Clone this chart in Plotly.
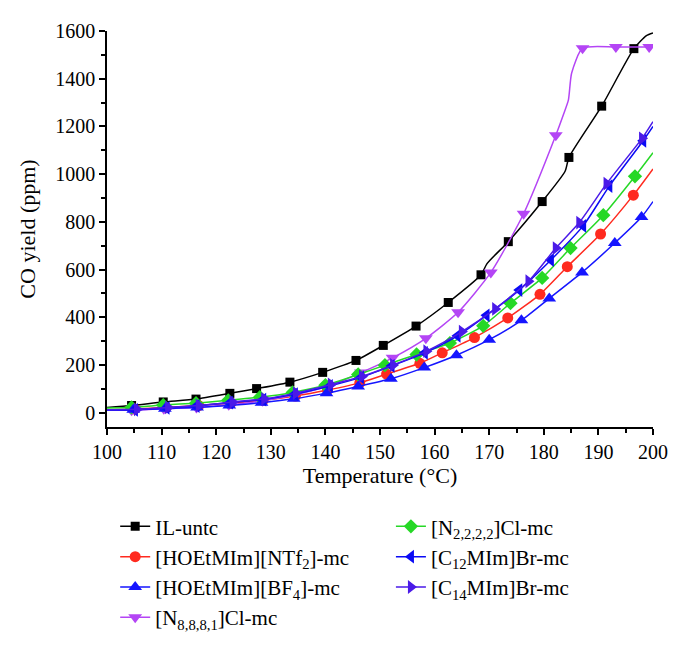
import plotly.graph_objects as go

# ---------------- data ----------------
# marker points (temperature °C, CO yield ppm)
il_T = [104.5, 110.3, 116.3, 122.5, 127.4, 133.5, 139.5, 145.6, 150.6, 156.6, 162.5, 168.5, 173.5, 179.7, 184.6, 190.6, 196.5]
il_V = [30, 45, 57, 81, 101, 128, 169, 219, 282, 363, 462, 578, 717, 885, 1070, 1285, 1526]
il_T_extra = [100, 169.6, 183.9, 198.8, 200]
il_V_extra = [22, 625, 1012, 1581, 1592]

ntf_T = [105.0, 110.8, 116.8, 122.7, 128.6, 134.5, 140.4, 146.3, 151.2, 157.3, 161.4, 167.3, 173.4, 179.3, 184.3, 190.4, 196.4]
ntf_V = [15, 22, 30, 40, 52, 70, 95, 125, 162, 207, 251, 315, 397, 496, 612, 749, 912]
ntf_T_extra = [100, 200]
ntf_V_extra = [12, 1022]

bf4_T = [104.8, 110.6, 116.5, 122.4, 128.3, 134.2, 140.2, 146.0, 152.0, 158.1, 164.0, 170.0, 175.9, 181.0, 187.0, 193.0, 197.9]
bf4_V = [12, 17, 22, 30, 42, 58, 82, 110, 142, 189, 241, 306, 387, 479, 588, 711, 820]
bf4_T_extra = [100, 200]
bf4_V_extra = [10, 885]

n8881_T = [104.5, 110.4, 116.4, 122.3, 128.5, 134.4, 140.5, 146.5, 152.3, 158.4, 164.3, 170.3, 176.3, 182.2, 187.1, 193.2, 199.3]
n8881_V = [10, 17, 22, 33, 50, 75, 112, 168, 230, 312, 421, 588, 834, 1163, 1528, 1533, 1533]
n8881_T_extra = [100, 183.6, 184.5, 185.1, 200]
n8881_V_extra = [12, 1250, 1310, 1424, 1533]

n2222_T = [104.5, 110.3, 116.3, 122.2, 128.0, 134.0, 140.0, 146.0, 150.9, 156.7, 162.8, 168.9, 173.9, 179.7, 184.9, 190.9, 196.7]
n2222_V = [22, 32, 40, 52, 65, 85, 115, 160, 199, 244, 292, 364, 459, 565, 690, 828, 991]
n2222_T_extra = [100, 200]
n2222_V_extra = [20, 1090]

c12_T = [105.1, 110.9, 116.4, 122.5, 128.6, 134.4, 140.8, 146.5, 152.1, 158.2, 164.2, 169.5, 175.5, 181.3, 187.2, 192.0, 198.2]
c12_V = [12, 20, 28, 42, 55, 78, 112, 148, 196, 251, 322, 408, 514, 640, 783, 950, 1140]
c12_T_extra = [100, 200]
c12_V_extra = [12, 1200]

c14_T = [105.5, 111.2, 116.8, 123.0, 128.8, 134.6, 141.0, 146.7, 152.4, 158.5, 165.0, 171.1, 177.2, 182.2, 186.5, 191.5, 198.0]
c14_V = [14, 22, 30, 45, 58, 82, 118, 152, 200, 258, 340, 435, 551, 690, 797, 960, 1150]
c14_T_extra = [100, 200]
c14_V_extra = [12, 1220]

names = {
    "il": "IL-untc",
    "ntf": "[HOEtMIm][NTf<sub>2</sub>]-mc",
    "bf4": "[HOEtMIm][BF<sub>4</sub>]-mc",
    "n8881": "[N<sub>8,8,8,1</sub>]Cl-mc",
    "n2222": "[N<sub>2,2,2,2</sub>]Cl-mc",
    "c12": "[C<sub>12</sub>MIm]Br-mc",
    "c14": "[C<sub>14</sub>MIm]Br-mc",
}

x_ticks = [100, 110, 120, 130, 140, 150, 160, 170, 180, 190, 200]
y_ticks = [0, 200, 400, 600, 800, 1000, 1200, 1400, 1600]

# ---------------- styles ----------------
series = [
    # key, T, V, Textra, Vextra, color, symbol, size, legend
    ("il", il_T, il_V, il_T_extra, il_V_extra, "#000000", "square", 9, "legend"),
    ("ntf", ntf_T, ntf_V, ntf_T_extra, ntf_V_extra, "#ff2a1f", "circle", 11, "legend"),
    ("n8881", n8881_T, n8881_V, n8881_T_extra, n8881_V_extra, "#b445f5", "triangle-down", 12, "legend"),
    ("n2222", n2222_T, n2222_V, n2222_T_extra, n2222_V_extra, "#26d826", "diamond", 11, "legend2"),
    ("bf4", bf4_T, bf4_V, bf4_T_extra, bf4_V_extra, "#1515ff", "triangle-up", 12, "legend"),
    ("c12", c12_T, c12_V, c12_T_extra, c12_V_extra, "#0a0af5", "triangle-left", 12, "legend2"),
    ("c14", c14_T, c14_V, c14_T_extra, c14_V_extra, "#4a1ae8", "triangle-right", 12, "legend2"),
]
legend_rank = {"il": 1, "ntf": 2, "bf4": 3, "n8881": 4, "n2222": 5, "c12": 6, "c14": 7}

fig = go.Figure()
for key, T, V, Te, Ve, col, sym, sz, leg in series:
    pts = sorted(zip(list(T) + list(Te), list(V) + list(Ve)))
    fig.add_trace(go.Scatter(
        x=[p[0] for p in pts], y=[p[1] for p in pts], mode="lines",
        line=dict(color=col, width=1.5, shape="spline", smoothing=0.6),
        showlegend=False, hoverinfo="skip", legendgroup=key,
    ))
    fig.add_trace(go.Scatter(
        x=T, y=V, mode="markers",
        marker=dict(color=col, symbol=sym, size=sz, line=dict(width=0)),
        showlegend=False, legendgroup=key,
    ))
    # legend entry
    fig.add_trace(go.Scatter(
        x=[None], y=[None], mode="lines+markers", name=names[key],
        line=dict(color=col, width=1.5),
        marker=dict(color=col, symbol=sym, size=sz, line=dict(width=0)),
        legend=leg, legendgroup=key, legendrank=legend_rank[key],
    ))

font_family = "Liberation Serif, Times New Roman, serif"
axis_common = dict(
    showline=True, linecolor="black", linewidth=1.5,
    ticks="outside", ticklen=6, tickwidth=1.5, tickcolor="black",
    showgrid=False, zeroline=False, mirror=False,
    tickfont=dict(family=font_family, size=20, color="black"),
)

fig.update_layout(
    width=682, height=655,
    margin=dict(l=99, r=37, t=14, b=236),
    paper_bgcolor="white", plot_bgcolor="white",
    font=dict(family=font_family, size=20, color="black"),
    xaxis=dict(
        range=[100, 200], tickvals=x_ticks,
        minor=dict(dtick=5, ticks="outside", ticklen=4, tickwidth=1.5, tickcolor="black"),
        title=dict(text="Temperature (°C)", font=dict(family=font_family, size=22), standoff=6),
        **axis_common,
    ),
    yaxis=dict(
        range=[-60, 1600], tickvals=y_ticks,
        minor=dict(dtick=100, ticks="outside", ticklen=4, tickwidth=1.5, tickcolor="black"),
        title=dict(text="CO yield (ppm)", font=dict(family=font_family, size=22), standoff=14),
        **axis_common,
    ),
    legend=dict(
        x=0.015, y=-0.20, xanchor="left", yanchor="top", orientation="v",
        font=dict(family=font_family, size=21), bgcolor="rgba(0,0,0,0)",
        tracegroupgap=0, itemwidth=30,
    ),
    legend2=dict(
        x=0.52, y=-0.20, xanchor="left", yanchor="top", orientation="v",
        font=dict(family=font_family, size=21), bgcolor="rgba(0,0,0,0)",
        tracegroupgap=0, itemwidth=30,
    ),
)

fig.write_html("out.html")
